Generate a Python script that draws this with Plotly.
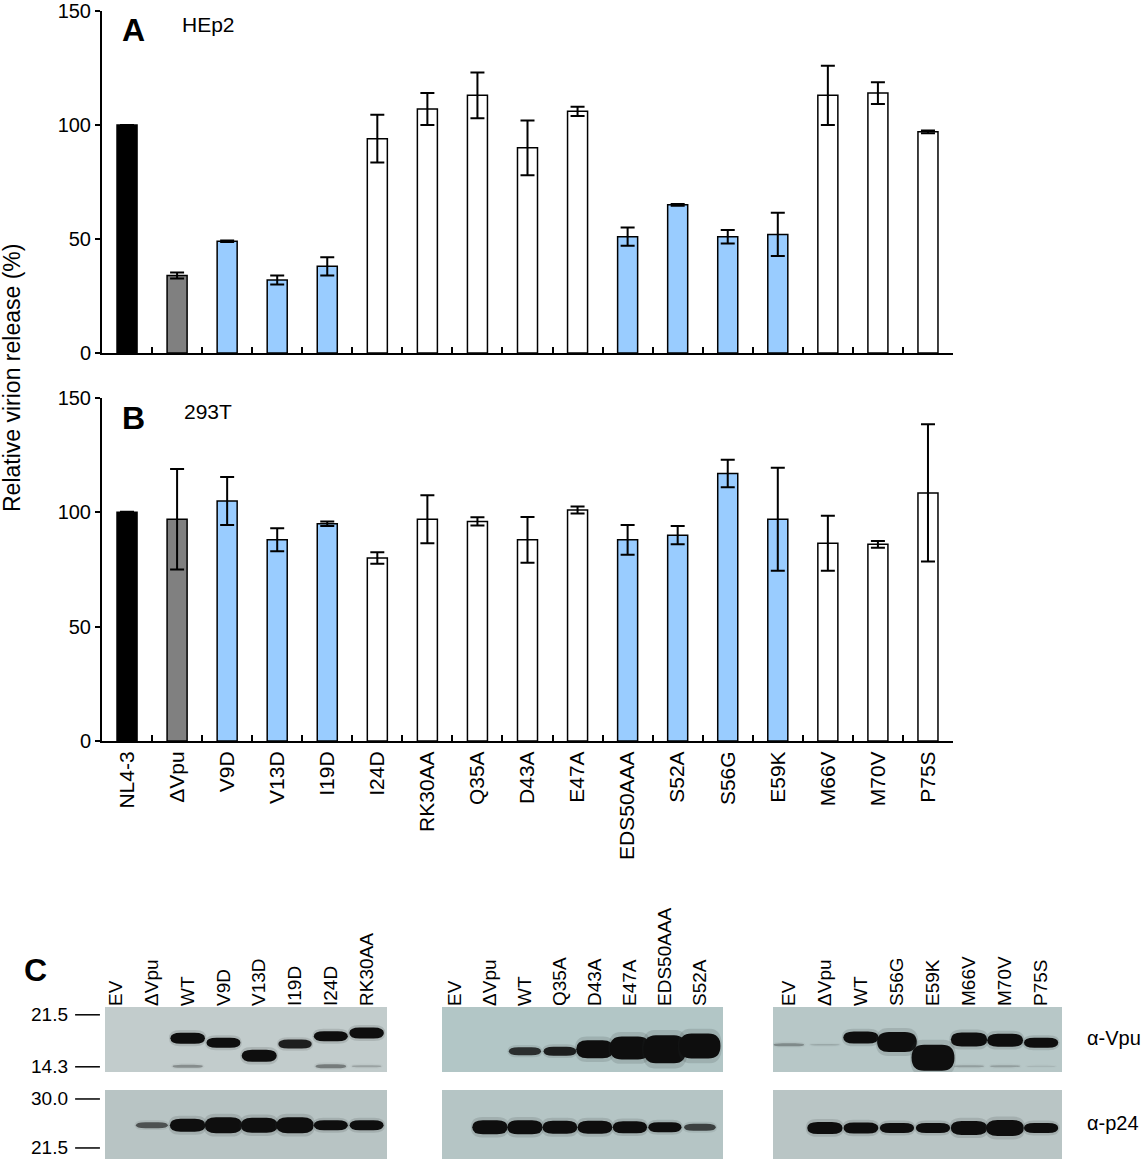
import plotly.graph_objects as go

W, H = 1146, 1162

# ---- panels A and B: virion release ----
mutants = ["NL4-3", "ΔVpu", "V9D", "V13D", "I19D", "I24D", "RK30AA", "Q35A",
           "D43A", "E47A", "EDS50AAA", "S52A", "S56G", "E59K", "M66V", "M70V", "P75S"]
# wt = parental, del = Vpu deleted, hit = reduced release in HEp2, ok = no defect
groups = ["wt", "del", "hit", "hit", "hit", "ok", "ok", "ok", "ok", "ok",
          "hit", "hit", "hit", "hit", "ok", "ok", "ok"]

hep2_release = [100, 34, 49, 32, 38, 94, 107, 113, 90, 106, 51, 65, 51, 52, 113, 114, 97]
hep2_sd = [0, 1.3, 0.3, 2, 4, 10.5, 7, 10, 12, 2, 4, 0.4, 3, 9.5, 13, 4.8, 0.6]

t293_release = [100, 97, 105, 88, 95, 80, 97, 96, 88, 101, 88, 90, 117, 97, 86.5, 86, 108.5]
t293_sd = [0.3, 22, 10.5, 5, 1, 2.5, 10.5, 1.8, 10, 1.5, 6.5, 4, 6, 22.5, 12, 1.5, 30]

y_ticks = [0, 50, 100, 150]

# ---- panel C: western blots (band position 0 = bottom of strip, 1 = top) ----
lanes_1 = ["EV", "ΔVpu", "WT", "V9D", "V13D", "I19D", "I24D", "RK30AA"]
vpu_pos_1 = [0.45, 0.45, 0.52, 0.45, 0.25, 0.43, 0.55, 0.60]
vpu_signal_1 = [0, 0, 1.1, 1.0, 1.2, 0.9, 1.0, 1.1]
vpu_low_signal_1 = [0, 0, 0.3, 0, 0, 0, 0.4, 0.2]
p24_signal_1 = [0, 0.6, 1.3, 1.6, 1.5, 1.6, 1.0, 1.0]

lanes_2 = ["EV", "ΔVpu", "WT", "Q35A", "D43A", "E47A", "EDS50AAA", "S52A"]
vpu_pos_2 = [0.33, 0.33, 0.32, 0.32, 0.35, 0.37, 0.35, 0.40]
vpu_signal_2 = [0, 0, 0.8, 0.9, 1.8, 2.3, 2.8, 2.5]
vpu_low_signal_2 = [0, 0, 0, 0, 0, 0, 0, 0]
p24_signal_2 = [0, 1.4, 1.4, 1.3, 1.3, 1.2, 1.0, 0.7]

lanes_3 = ["EV", "ΔVpu", "WT", "S56G", "E59K", "M66V", "M70V", "P75S"]
vpu_pos_3 = [0.42, 0.42, 0.53, 0.46, 0.22, 0.50, 0.49, 0.45]
vpu_signal_3 = [0.3, 0.15, 1.2, 2.0, 2.6, 1.4, 1.3, 1.0]
vpu_low_signal_3 = [0, 0, 0, 0, 0, 0.2, 0.2, 0.1]
p24_signal_3 = [0, 1.2, 1.1, 1.0, 1.0, 1.4, 1.6, 1.0]

p24_pos = [0.49, 0.46, 0.45]

mw_vpu = ["21.5", "14.3"]
mw_vpu_pos = [0.88, 0.08]
mw_p24 = ["30.0", "21.5"]
mw_p24_pos = [0.87, 0.16]

FONT = "Liberation Sans, Arial, sans-serif"


def px_x(p):
    return p / W


def px_y(p):
    return 1 - p / H


fill = {"wt": "#000000", "del": "#808080", "hit": "#99CCFF", "ok": "#FFFFFF"}
bar_colors = [fill[g] for g in groups]

fig = go.Figure()
for vals, sd, xa, ya in [(hep2_release, hep2_sd, "x", "y"),
                         (t293_release, t293_sd, "x2", "y2")]:
    fig.add_trace(go.Bar(
        x=mutants, y=vals, width=0.4, xaxis=xa, yaxis=ya,
        marker=dict(color=bar_colors, line=dict(color="black", width=1.5)),
        error_y=dict(type="data", array=sd, color="black", thickness=2, width=7),
        hoverinfo="x+y",
    ))

bar_x = dict(domain=[px_x(102), px_x(953)], type="category", range=[-0.5, 16.5],
             showline=True, linecolor="black", linewidth=2, ticks="inside",
             tickson="boundaries", ticklen=6, tickwidth=2, tickcolor="black",
             showgrid=False, zeroline=False, automargin=False)
bar_y = dict(range=[0, 150], tickvals=y_ticks, ticks="outside", ticklen=5,
             tickwidth=1.5, tickcolor="black", showline=True, linecolor="black",
             linewidth=2, showgrid=False, zeroline=False, automargin=False,
             tickfont=dict(size=20, color="black", family=FONT))

layout = dict(
    width=W, height=H, autosize=False, showlegend=False,
    margin=dict(l=0, r=0, t=0, b=0, pad=0),
    paper_bgcolor="white", plot_bgcolor="white",
    font=dict(family=FONT, color="black"),
    xaxis=dict(bar_x, anchor="y", showticklabels=False),
    yaxis=dict(bar_y, anchor="x", domain=[px_y(353), px_y(11)]),
    xaxis2=dict(bar_x, anchor="y2", showticklabels=True, tickangle=-90,
                tickfont=dict(size=21, color="black", family=FONT)),
    yaxis2=dict(bar_y, anchor="x2", domain=[px_y(741), px_y(398)]),
)

# blot strips: (x axis, vpu y axis, p24 y axis, left px, right px, lane range)
blots = [
    ("3", "3", "6", 105, 387, [-0.31, 7.57], lanes_1, vpu_pos_1, vpu_signal_1,
     vpu_low_signal_1, p24_signal_1, "#C2CCCC", "#B8C4C4"),
    ("4", "4", "7", 442, 723, [-0.37, 7.66], lanes_2, vpu_pos_2, vpu_signal_2,
     vpu_low_signal_2, p24_signal_2, "#B2C6C6", "#B5C5C5"),
    ("5", "5", "8", 773, 1062, [-0.44, 7.58], lanes_3, vpu_pos_3, vpu_signal_3,
     vpu_low_signal_3, p24_signal_3, "#B7C7C7", "#B9C5C5"),
]
vpu_px = (1007, 1072)
p24_px = (1090, 1159)

shapes = []
annotations = []


def band_path(xc, yc, w, h):
    x0, x1 = xc - w / 2, xc + w / 2
    y0, y1 = yc - h / 2, yc + h / 2
    r = min(w * 0.3, 0.35)
    return (f"M {x0 + r},{y0} L {x1 - r},{y0} Q {x1},{y0} {x1},{yc} "
            f"Q {x1},{y1} {x1 - r},{y1} L {x0 + r},{y1} Q {x0},{y1} {x0},{yc} "
            f"Q {x0},{y0} {x0 + r},{y0} Z")


def add_bands(xa, ya, pos, signal, strip_px):
    for i, s in enumerate(signal):
        if s <= 0:
            continue
        h = s * 10 / strip_px
        w = min(0.8 + 0.15 * s, 1.25)
        op = min(1.0, s)
        # soft halo then the band itself
        shapes.append(dict(type="path", xref="x" + xa, yref="y" + ya,
                           path=band_path(i, pos[i], w + 0.08, h * 1.3 + 0.03),
                           fillcolor="rgb(50,55,55)", opacity=0.15 * op,
                           line=dict(width=0), layer="above"))
        shapes.append(dict(type="path", xref="x" + xa, yref="y" + ya,
                           path=band_path(i, pos[i], w, h),
                           fillcolor="rgb(14,14,14)", opacity=op,
                           line=dict(width=0), layer="above"))


for (xa, ya_v, ya_p, left, right, rng, lanes, vpos, vsig, vlow, psig,
     col_v, col_p) in blots:
    k = int(xa) - 3
    layout["xaxis" + xa] = dict(
        domain=[px_x(left), px_x(right)], range=rng, anchor="y" + ya_v,
        side="top", tickvals=list(range(len(lanes))), ticktext=lanes,
        tickangle=-90, ticks="", showline=False, showgrid=False, zeroline=False,
        automargin=False, tickfont=dict(size=19, color="black", family=FONT))
    layout["yaxis" + ya_v] = dict(domain=[px_y(vpu_px[1]), px_y(vpu_px[0])],
                                  range=[0, 1], anchor="x" + xa, visible=False,
                                  automargin=False)
    layout["yaxis" + ya_p] = dict(domain=[px_y(p24_px[1]), px_y(p24_px[0])],
                                  range=[0, 1], anchor="x" + xa, visible=False,
                                  automargin=False)
    for ya in (ya_v, ya_p):
        fig.add_trace(go.Scatter(x=[0], y=[-5], xaxis="x" + xa, yaxis="y" + ya,
                                 mode="markers", marker=dict(opacity=0),
                                 hoverinfo="skip"))
    for ya, col in ((ya_v, col_v), (ya_p, col_p)):
        shapes.append(dict(type="rect", xref="x" + xa + " domain",
                           yref="y" + ya + " domain", x0=0, x1=1, y0=0, y1=1,
                           fillcolor=col, line=dict(width=0), layer="below"))
    add_bands(xa, ya_v, vpos, vsig, vpu_px[1] - vpu_px[0])
    add_bands(xa, ya_v, [0.09] * len(vlow), vlow, vpu_px[1] - vpu_px[0])
    add_bands(xa, ya_p, [p24_pos[k]] * len(psig), psig, p24_px[1] - p24_px[0])

# molecular weight markers on the left of the first blot
for labels, pos, ya in ((mw_vpu, mw_vpu_pos, "3"), (mw_p24, mw_p24_pos, "6")):
    for lab, p in zip(labels, pos):
        shapes.append(dict(type="line", xref="x3 domain", yref="y" + ya,
                           x0=-0.106, x1=-0.018, y0=p, y1=p,
                           line=dict(color="black", width=1.5)))
        annotations.append(dict(text=lab, xref="x3 domain", yref="y" + ya,
                                x=-0.125, y=p, xanchor="right", yanchor="middle",
                                showarrow=False, font=dict(size=19)))

for lab, ya in (("α-Vpu", "5"), ("α-p24", "8")):
    annotations.append(dict(text=lab, xref="x5 domain", yref="y" + ya,
                            x=1.08, y=0.52, xanchor="left", yanchor="middle",
                            showarrow=False, font=dict(size=20)))

# panel letters and cell line names
for txt, x, y, size, bold in (("A", 133, 30, 32, True), ("HEp2", 208, 24, 21, False),
                              ("B", 133, 418, 32, True), ("293T", 208, 412, 21, False),
                              ("C", 35, 970, 32, True)):
    annotations.append(dict(text=f"<b>{txt}</b>" if bold else txt,
                            xref="paper", yref="paper", x=px_x(x), y=px_y(y),
                            xanchor="center", yanchor="middle", showarrow=False,
                            font=dict(size=size)))

annotations.append(dict(text="Relative virion release (%)", xref="paper",
                        yref="paper", x=px_x(12), y=px_y(378), textangle=-90,
                        xanchor="center", yanchor="middle", showarrow=False,
                        font=dict(size=23)))

layout["shapes"] = shapes
layout["annotations"] = annotations
fig.update_layout(**layout)

fig.write_html("out.html", config={"displayModeBar": False},
               post_script="document.body.style.margin='0';")
